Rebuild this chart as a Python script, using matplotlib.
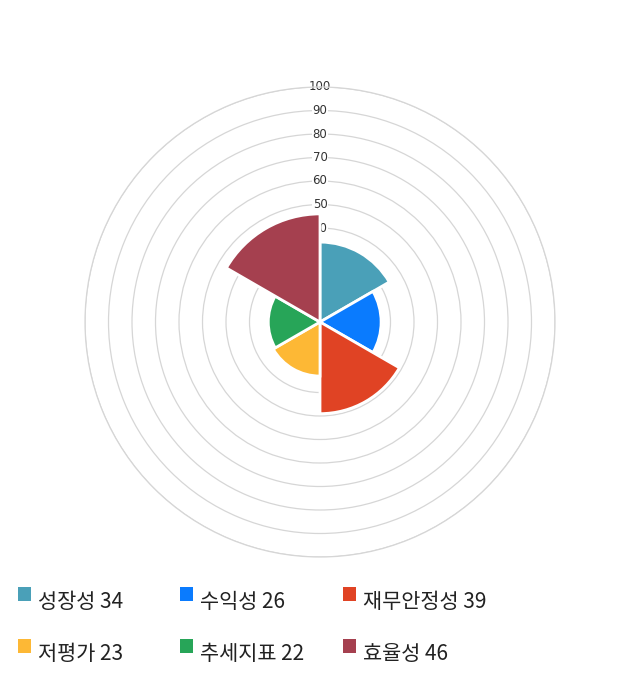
import numpy as np
import matplotlib
matplotlib.use("Agg")
import matplotlib.pyplot as plt
from matplotlib.patches import Rectangle

plt.rcParams['font.family'] = ['Noto Sans CJK KR', 'DejaVu Sans']

categories = ['성장성', '수익성', '재무안정성', '저평가', '추세지표', '효율성']
values = [34, 26, 39, 23, 22, 46]
colors = ['#4aa0b8', '#0a7bfe', '#e04324', '#fdb835', '#27a558', '#a5404f']
rticks = [10, 20, 30, 40, 50, 60, 70, 80, 90, 100]

W, H = 640, 700
fig = plt.figure(figsize=(W / 100, H / 100), dpi=100)
cx, cy, R = 320, 322, 235
ax = fig.add_axes([(cx - R) / W, (H - cy - R) / H, 2 * R / W, 2 * R / H], projection='polar')
ax.set_theta_zero_location('N')
ax.set_theta_direction(-1)
ax.set_ylim(0, 100)

n = len(values)
width = 2 * np.pi / n
theta = np.arange(n) * width + width / 2
ax.bar(theta, values, width=width, color=colors, edgecolor='white', linewidth=2, zorder=3, align='center')

ax.set_yticks(rticks)
ax.set_yticklabels([])
ax.set_xticks([])
ax.yaxis.grid(True, color='#d6d6d6', linewidth=0.9, zorder=0)
ax.xaxis.grid(False)
ax.spines['polar'].set_color('#d6d6d6')
ax.spines['polar'].set_linewidth(0.9)
for r in rticks:
    ax.text(0, r, str(r), ha='center', va='center', fontsize=8.5, color='#333333', zorder=2,
            family=['DejaVu Sans'],
            bbox=dict(facecolor='white', edgecolor='none', pad=0.5))

# legend
col_x = [18, 180, 343]
row_y = [602, 654]
for i, (name, v, c) in enumerate(zip(categories, values, colors)):
    col, row = i % 3, i // 3
    x = col_x[col]
    y = row_y[row]
    fig.patches.append(Rectangle((x / W, (H - y + 1) / H), 13 / W, 14 / H, transform=fig.transFigure,
                                 facecolor=c, edgecolor='none'))
    fig.text((x + 20) / W, (H - y) / H, f'{name} {v}', fontsize=15, color='#222222', va='center', ha='left')

fig.savefig('out.png', dpi=100)
